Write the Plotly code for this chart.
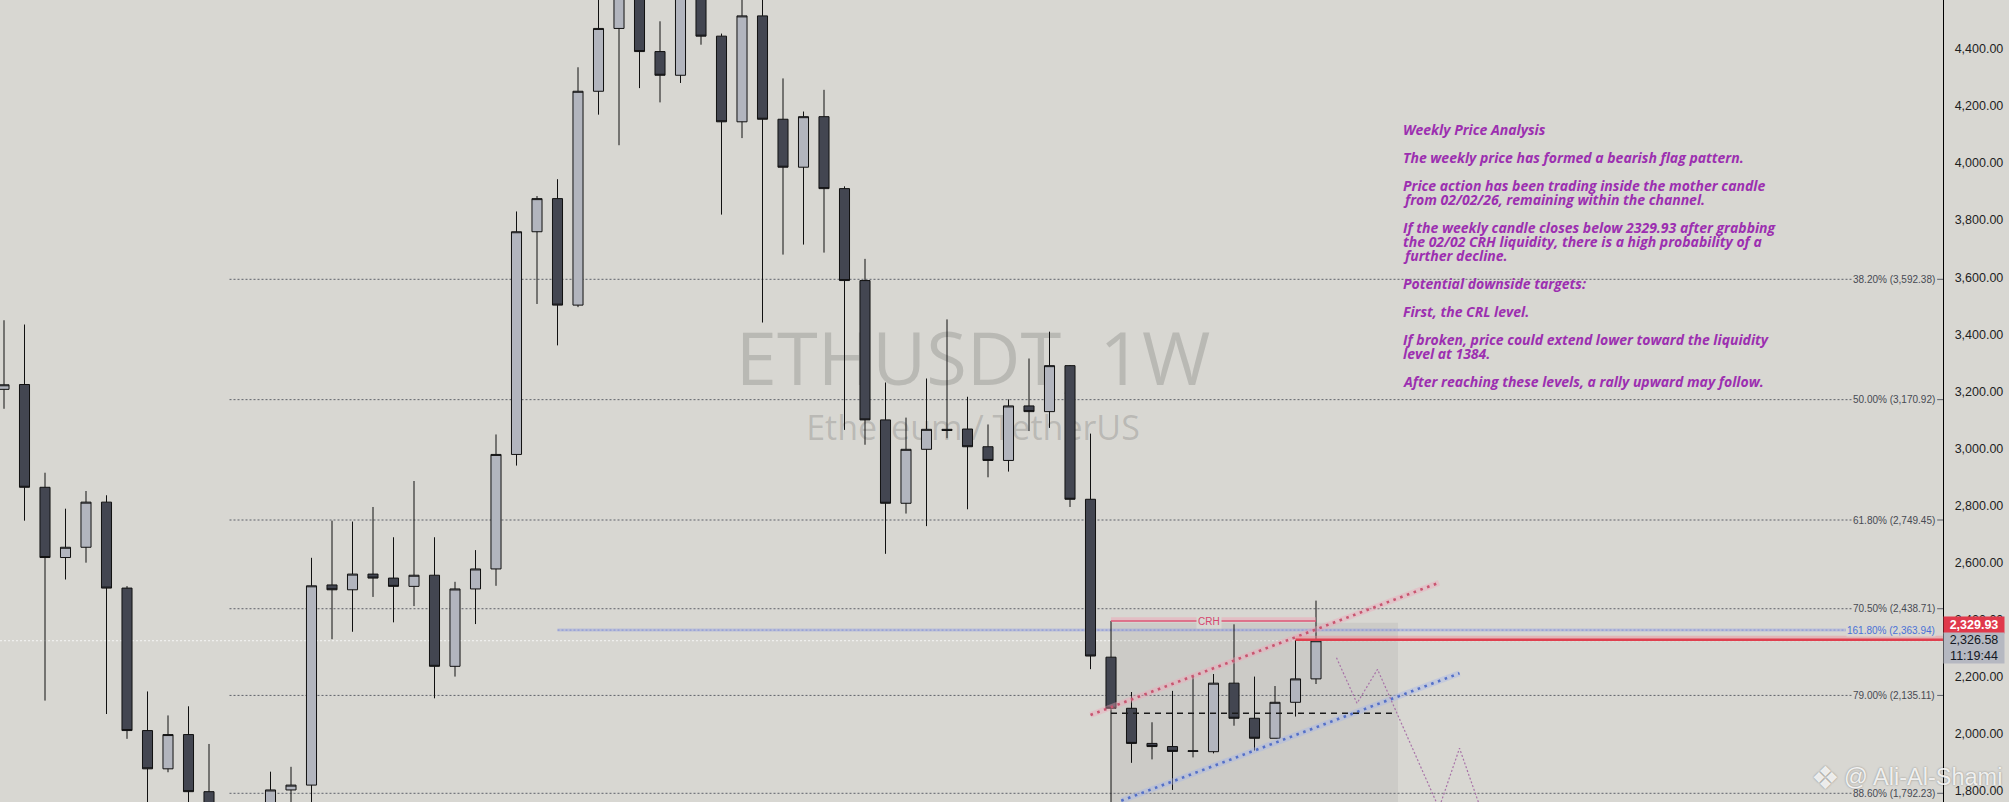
import pandas as pd
import plotly.graph_objects as go

# weekly ETHUSDT candles, first week 2025-01-20 (the 02/02/26 mother candle is index 54)
START = pd.Timestamp("2025-01-20")
opens = [3207, 3224, 2864, 2618, 2654, 2812, 2511, 2012, 1878, 1998,
         1798, 1575, 1580, 1645, 1804, 1821, 2522, 2505, 2560, 2546,
         2517, 2556, 2237, 2508, 2578, 2979, 3759, 3875, 3502, 4251,
         4471, 4610, 4390, 4307, 4620, 4444, 4144, 4515, 4153, 3985,
         4162, 3910, 3588, 3100, 2808, 2997, 3067, 3068, 3006, 2958,
         3149, 3129, 3290, 2822, 2269, 2090, 1967, 1956, 1939, 1938,
         2178, 2055, 1985, 2111, 2193]
highs = [3449, 3434, 2915, 2789, 2851, 2836, 2518, 2149, 2065, 2097,
         1965, 1690, 1750, 1868, 1885, 2617, 2747, 2744, 2795, 2689,
         2886, 2689, 2533, 2644, 3049, 3830, 3884, 3943, 4335, 4788,
         4956, 4700, 4496, 4766, 4650, 4453, 4640, 4755, 4296, 4180,
         4256, 3918, 3664, 3231, 3108, 3245, 3452, 3181, 3084, 3172,
         3315, 3409, 3292, 3052, 2396, 2147, 2041, 2151, 2201, 2210,
         2384, 2201, 2168, 2329, 2467]
lows = [3139, 2747, 2117, 2541, 2600, 2070, 1983, 1745, 1866, 1761,
        1540, 1385, 1540, 1570, 1745, 1755, 2332, 2358, 2480, 2391,
        2448, 2125, 2201, 2385, 2519, 2940, 3506, 3361, 3495, 4169,
        4062, 4262, 4212, 4280, 4414, 3819, 4087, 3441, 3679, 3714,
        3686, 3065, 3013, 2631, 2772, 2728, 3036, 2787, 2899, 2919,
        3061, 3072, 2795, 2227, 1745, 1899, 1911, 1804, 1918, 1932,
        2029, 1942, 1985, 2061, 2175]
closes = [3223, 2864, 2618, 2654, 2812, 2511, 2012, 1878, 1998, 1798,
          1575, 1580, 1645, 1804, 1821, 2519, 2505, 2560, 2546, 2517,
          2556, 2237, 2508, 2578, 2979, 3759, 3875, 3502, 4251, 4471,
          4615, 4390, 4307, 4620, 4444, 4144, 4515, 4153, 3985, 4162,
          3910, 3588, 3100, 2808, 2997, 3067, 3063, 3006, 2958, 3149,
          3129, 3290, 2822, 2273, 2090, 1967, 1956, 1939, 1941, 2178,
          2055, 1985, 2111, 2193, 2326.58]
weeks = pd.date_range(START, periods=len(opens), freq="7D")

fib_ratios = ["38.20%", "50.00%", "61.80%", "70.50%", "79.00%", "88.60%"]
fib_levels = [3592.38, 3170.92, 2749.45, 2438.71, 2135.11, 1792.23]
ext_ratio = "161.80%"
ext_level = 2363.94

crh_price = 2395.7
mid_price = 2072.5
box_top = 2390.0
trigger_price = 2329.93
last_price = 2326.58
countdown = "11:19:44"

upper_channel_w = [53.0, 70.0]
upper_channel_p = [2066.5, 2529.8]
lower_channel_w = [54.5, 71.0]
lower_channel_p = [1766.3, 2212.5]
path_w = [65, 66, 67, 70, 71, 73]
path_p = [2267.0, 2107.5, 2226.5, 1740.0, 1950.0, 1540.0]

price_ticks = [1800, 2000, 2200, 2400, 2600, 2800, 3000, 3200,
               3400, 3600, 3800, 4000, 4200, 4400]

note_lines = [
    "Weekly Price Analysis",
    "",
    "The weekly price has formed a bearish flag pattern.",
    "",
    "Price action has been trading inside the mother candle",
    "from 02/02/26, remaining within the channel.",
    "",
    "If the weekly candle closes below 2329.93 after grabbing",
    "the 02/02 CRH liquidity, there is a high probability of a",
    "further decline.",
    "",
    "Potential downside targets:",
    "",
    "First, the CRL level.",
    "",
    "If broken, price could extend lower toward the liquidity",
    "level at 1384.",
    "",
    "After reaching these levels, a rally upward may follow.",
]

BG = "#d8d7d2"
W, H = 2009, 802
PLOT_W = 1943


def wk(i):
    return (START + pd.Timedelta(days=7 * i)).strftime("%Y-%m-%d %H:%M:%S")


def px_x(px):
    return px / PLOT_W


def px_y(px):
    return 1 - px / H


fig = go.Figure()

# mother candle range box and levels (under candles)
fig.add_shape(type="rect", x0=wk(54), x1=wk(68), y0=1700, y1=box_top,
              fillcolor="rgba(90,90,90,0.09)", line_width=0, layer="below")
for lvl in fib_levels:
    fig.add_shape(type="line", x0=wk(11), x1=wk(90.15), y0=lvl, y1=lvl,
                  line=dict(color="#5f626b", width=1, dash="2px,2px"), layer="below")
    fig.add_shape(type="line", x0=wk(94.3), x1=wk(94.6), y0=lvl, y1=lvl,
                  line=dict(color="#5f626b", width=1), layer="below")
fig.add_shape(type="line", x0=wk(27), x1=wk(89.85), y0=ext_level, y1=ext_level,
              line=dict(color="rgba(150,160,225,0.45)", width=3), layer="below")
fig.add_shape(type="line", x0=wk(27), x1=wk(89.85), y0=ext_level, y1=ext_level,
              line=dict(color="#8290d4", width=1, dash="2px,2px"), layer="below")
fig.add_shape(type="line", xref="paper", x0=0, x1=1, y0=last_price, y1=last_price,
              line=dict(color="rgba(250,250,250,0.9)", width=1, dash="2px,2px"), layer="below")

# chart watermark
fig.add_shape(type="rect", xref="paper", yref="paper", x0=px_x(673), x1=px_x(1273),
              y0=px_y(395), y1=px_y(327), line_width=0, fillcolor="rgba(0,0,0,0)", layer="below",
              label=dict(text="ETHUSDT, 1W", textposition="middle center",
                         font=dict(family="Open Sans", size=74, color="rgba(120,120,118,0.32)")))
fig.add_shape(type="rect", xref="paper", yref="paper", x0=px_x(773), x1=px_x(1173),
              y0=px_y(447), y1=px_y(411), line_width=0, fillcolor="rgba(0,0,0,0)", layer="below",
              label=dict(text="Ethereum / TetherUS", textposition="middle center",
                         font=dict(family="Open Sans", size=34, color="rgba(120,120,118,0.32)")))

fig.add_trace(go.Candlestick(
    x=weeks, open=opens, high=highs, low=lows, close=closes,
    increasing=dict(fillcolor="#b2b5be", line=dict(color="#111111", width=1)),
    decreasing=dict(fillcolor="#434651", line=dict(color="#111111", width=1)),
    whiskerwidth=0, showlegend=False, hoverinfo="skip",
))

# CRH, mid line, trigger line
fig.add_shape(type="line", x0=wk(54), x1=wk(64), y0=crh_price + 6, y1=crh_price + 6,
              line=dict(color="rgba(240,160,180,0.45)", width=4))
fig.add_shape(type="line", x0=wk(54), x1=wk(64), y0=crh_price, y1=crh_price,
              line=dict(color="#dc5676", width=1.5))
fig.add_shape(type="line", x0=wk(54), x1=wk(67.9), y0=mid_price, y1=mid_price,
              line=dict(color="#1a1a1a", width=1.5, dash="6px,5px"))
fig.add_shape(type="line", x0=wk(63), x1=wk(94.6), y0=trigger_price + 5, y1=trigger_price + 5,
              line=dict(color="rgba(240,140,150,0.45)", width=5))
fig.add_shape(type="line", x0=wk(63), x1=wk(94.6), y0=trigger_price, y1=trigger_price,
              line=dict(color="#df3f4e", width=2.5))

# channel lines and projected path
for ws, ps, glow, dot in [
    (upper_channel_w, upper_channel_p, "rgba(240,165,185,0.4)", "#c95570"),
    (lower_channel_w, lower_channel_p, "rgba(165,180,235,0.4)", "#5470c8"),
]:
    xs = [wk(w) for w in ws]
    fig.add_trace(go.Scatter(x=xs, y=ps, mode="lines", hoverinfo="skip", showlegend=False,
                             line=dict(color=glow, width=6)))
    fig.add_trace(go.Scatter(x=xs, y=ps, mode="lines", hoverinfo="skip", showlegend=False,
                             line=dict(color=dot, width=2.6, dash="2.6px,4.6px")))
fig.add_trace(go.Scatter(x=[wk(w) for w in path_w], y=path_p, mode="lines",
                         hoverinfo="skip", showlegend=False,
                         line=dict(color="#a873a8", width=1.2, dash="2px,2px")))

fig.add_annotation(x=wk(58.77), y=crh_price, text="CRH", showarrow=False,
                   xanchor="center", yanchor="middle", bgcolor=BG, borderpad=1,
                   font=dict(family="Liberation Sans", size=10, color="#d6456e"))

for ratio, lvl in zip(fib_ratios, fib_levels):
    fig.add_annotation(xref="paper", x=px_x(1936), y=lvl, xanchor="right", yanchor="middle",
                       text=f"{ratio} ({lvl:,.2f})", showarrow=False, bgcolor=BG, borderpad=0,
                       font=dict(family="Liberation Sans", size=10, color="#474a53"))
fig.add_annotation(xref="paper", x=px_x(1936), y=ext_level, xanchor="right", yanchor="middle",
                   text=f"{ext_ratio} ({ext_level:,.2f})", showarrow=False, bgcolor=BG, borderpad=0,
                   font=dict(family="Liberation Sans", size=10, color="#4a72d6"))

# analysis note
for k, line in enumerate(note_lines):
    if not line:
        continue
    fig.add_annotation(xref="paper", yref="paper", x=px_x(1400.7), y=px_y(129.3 + 14 * k),
                       xanchor="left", yanchor="middle", text=line, showarrow=False,
                       font=dict(family="Open Sans", size=14, color="#9c2fb0",
                                 weight="bold", style="italic"))

# price scale labels
fig.add_annotation(xref="paper", yref="paper", x=px_x(1974), y=px_y(624.5),
                   xanchor="center", yanchor="middle",
                   text=f"{trigger_price:,.2f}", showarrow=False, bgcolor="#e0394b",
                   width=60, height=16, borderpad=0,
                   font=dict(family="Liberation Sans", size=12.5, color="white", weight="bold"))
fig.add_annotation(xref="paper", yref="paper", x=px_x(1974), y=px_y(648.3),
                   xanchor="center", yanchor="middle",
                   text=f"{last_price:,.2f}<br>{countdown}", showarrow=False, bgcolor="#b5b8c1",
                   width=60, height=30, borderpad=0,
                   font=dict(family="Liberation Sans", size=12.5, color="#131722"))

# author watermark
fig.add_annotation(xref="paper", yref="paper", x=px_x(1825), y=px_y(778), text="❖",
                   xanchor="center", yanchor="middle", showarrow=False,
                   font=dict(family="DejaVu Sans", size=32, color="rgba(255,255,255,0.85)",
                             shadow="0px 0px 2px rgba(0,0,0,0.45)"))
fig.add_annotation(xref="paper", yref="paper", x=px_x(1842), y=px_y(777),
                   xanchor="left", yanchor="middle",
                   text="@ Ali-Al-Shami", showarrow=False,
                   font=dict(family="Liberation Sans", size=23.5, color="rgba(255,255,255,0.85)",
                             shadow="0px 0px 2px rgba(0,0,0,0.45)"))

fig.update_layout(
    width=W, height=H,
    margin=dict(l=0, r=W - PLOT_W, t=0, b=0),
    paper_bgcolor=BG, plot_bgcolor=BG,
    showlegend=False,
    xaxis=dict(visible=False, range=[wk(-0.195), wk(94.585)],
               rangeslider=dict(visible=False), showgrid=False),
    yaxis=dict(side="right", range=[1761.8, 4570.6], showgrid=False, zeroline=False,
               showline=True, linecolor="#000000", linewidth=1.3, ticks="",
               tickvals=price_ticks, ticktext=[f"{v:,.2f}" for v in price_ticks],
               ticklabelstandoff=8,
               tickfont=dict(family="Liberation Sans", size=12.5, color="#1e1e1e")),
)

fig.write_html("out.html", config={"displayModeBar": False},
               post_script="document.body.style.margin='0px';document.body.style.overflow='hidden';")
